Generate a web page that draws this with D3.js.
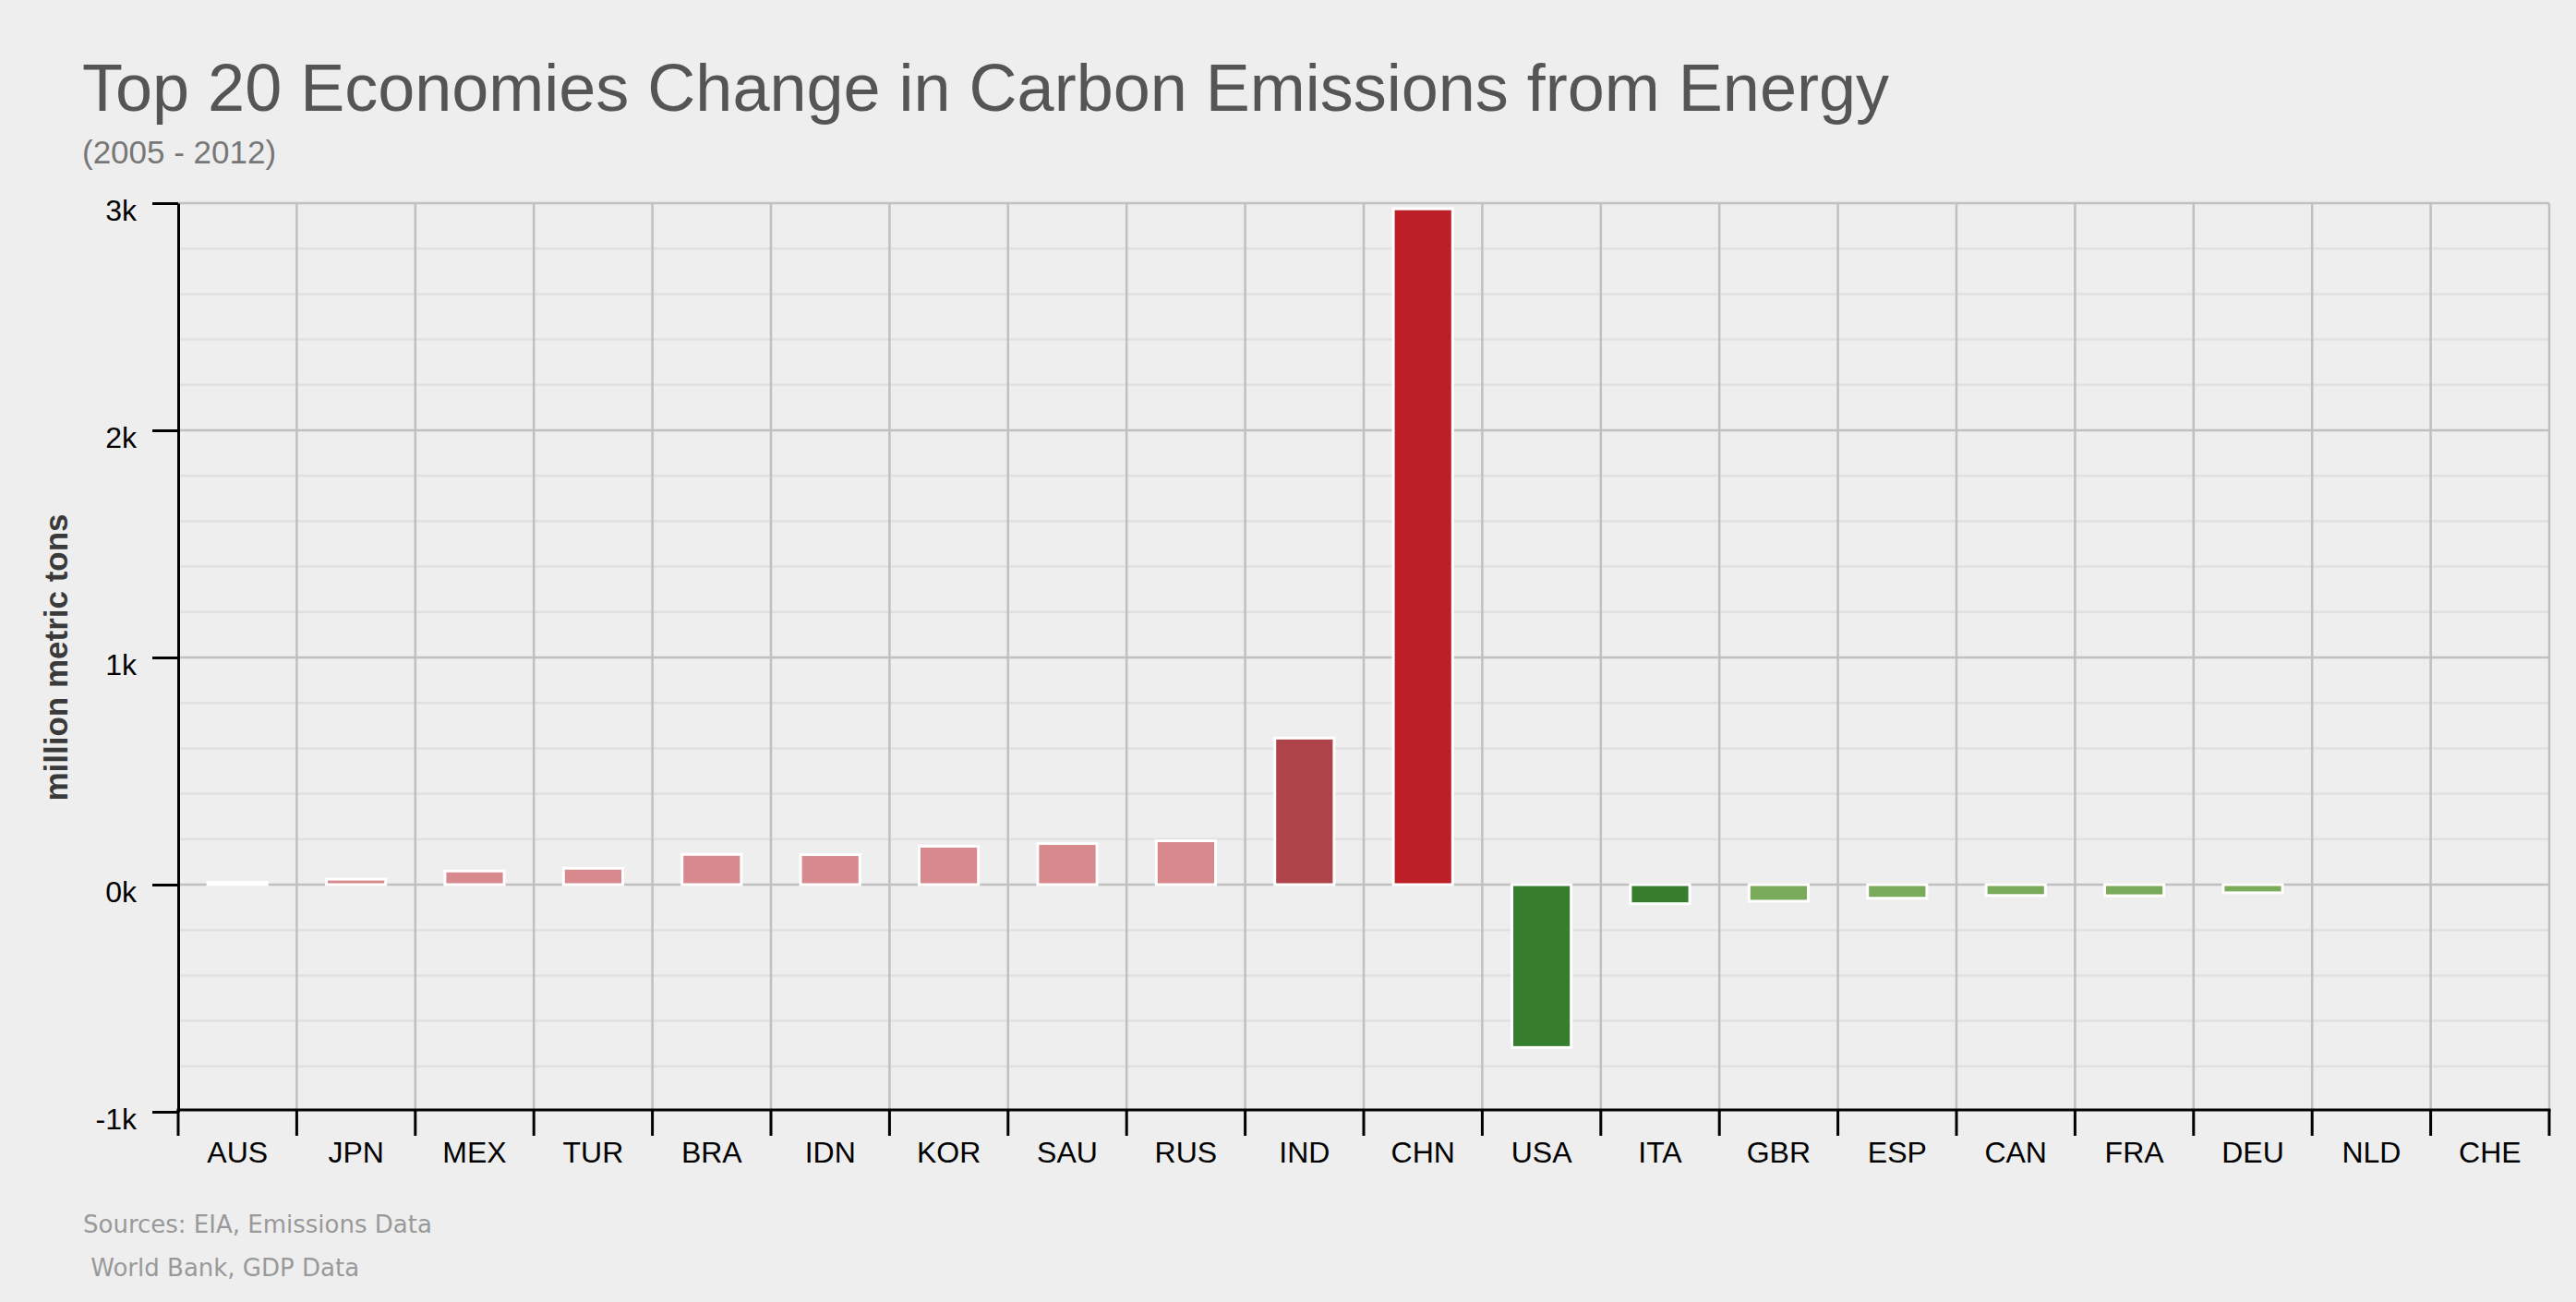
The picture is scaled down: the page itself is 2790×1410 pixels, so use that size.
<!DOCTYPE html>
<html>
<head>
<meta charset="utf-8">
<script src="https://cdn.jsdelivr.net/npm/d3@7"></script>
<style>
  body { margin: 0; background: #eeeeee; }
  svg { display: block; }
</style>
</head>
<body>
<script>
// data (million metric tons, 2005 -> 2012)
var countries = ["AUS","JPN","MEX","TUR","BRA","IDN","KOR","SAU","RUS","IND","CHN","USA","ITA","GBR","ESP","CAN","FRA","DEU","NLD","CHE"];
var change    = [11, 24, 60, 72, 133, 132, 169, 181, 193, 645, 2975, -717, -84, -73, -60, -48, -49, -36, null, null];
var bucket    = ["flat","up","up","up","up","up","up","up","up","up2","up3","down2","down2","down","down","down","down","down","flat","flat"];
var bucketNames  = ["flat","up","up2","up3","down","down2"];
var bucketColors = ["#ffffff","#d8898e","#ae434a","#bd1f26","#79ab5a","#367e2e"];
var yTicks = [-1000, 0, 1000, 2000, 3000];
var yMinor = d3.range(-1000, 3001, 200);

var W = 2790, H = 1410;
var plotLeft = 193, plotRight = 2761, plotTop = 220, plotBottom = 1204;

var rows = countries.map(function(c, i) { return {name: c, value: change[i], group: bucket[i]}; });

var svg = d3.select("body").append("svg")
    .attr("width", W)
    .attr("height", H)
    .style("background", "#eeeeee");

var x = d3.scaleBand()
    .domain(countries)
    .range([plotLeft, plotRight])
    .paddingInner(0.5)
    .paddingOuter(0.25);

var y = d3.scaleLinear()
    .domain([-1000, 3000])
    .range([plotBottom, plotTop]);

var color = d3.scaleOrdinal(bucketNames, bucketColors);

// titles
svg.append("text")
    .attr("x", 89).attr("y", 120)
    .attr("font-family", "'Liberation Sans', Arial, sans-serif")
    .attr("font-size", 72)
    .attr("fill", "#555555")
    .text("Top 20 Economies Change in Carbon Emissions from Energy");

svg.append("text")
    .attr("x", 89).attr("y", 177)
    .attr("font-family", "'Liberation Sans', Arial, sans-serif")
    .attr("font-size", 35)
    .attr("fill", "#777777")
    .text("(2005 - 2012)");

// grid
var grid = svg.append("g");
grid.selectAll("line.minor")
    .data(yMinor.filter(function(v) { return yTicks.indexOf(v) < 0; }))
    .enter().append("line")
    .attr("class", "minor")
    .attr("x1", plotLeft).attr("x2", plotRight)
    .attr("y1", function(d) { return y(d); })
    .attr("y2", function(d) { return y(d); })
    .attr("stroke", "#e0e0e0")
    .attr("stroke-width", 2.5);

var bounds = d3.range(countries.length + 1).map(function(i) { return plotLeft + i * x.step(); });

grid.selectAll("line.vert")
    .data(bounds.slice(1))
    .enter().append("line")
    .attr("class", "vert")
    .attr("x1", function(d) { return d; })
    .attr("x2", function(d) { return d; })
    .attr("y1", plotTop).attr("y2", plotBottom)
    .attr("stroke", "#c0c0c0")
    .attr("stroke-width", 2.5);

grid.selectAll("line.major")
    .data(yTicks.filter(function(v) { return v > -1000; }))
    .enter().append("line")
    .attr("class", "major")
    .attr("x1", plotLeft).attr("x2", plotRight)
    .attr("y1", function(d) { return y(d); })
    .attr("y2", function(d) { return y(d); })
    .attr("stroke", "#c0c0c0")
    .attr("stroke-width", 2.5);

// bars
svg.append("g").selectAll("rect")
    .data(rows.filter(function(d) { return d.value != null; }))
    .enter().append("rect")
    .attr("x", function(d) { return x(d.name); })
    .attr("width", x.bandwidth())
    .attr("y", function(d) { return y(Math.max(0, d.value)); })
    .attr("height", function(d) { return Math.abs(y(d.value) - y(0)); })
    .attr("fill", function(d) { return color(d.group); })
    .attr("stroke", "#ffffff")
    .attr("stroke-width", 3);

// y axis
var yAxis = svg.append("g")
    .attr("transform", "translate(" + plotLeft + ",0)")
    .call(d3.axisLeft(y)
        .tickValues(yTicks)
        .tickFormat(function(d) { return (d / 1000) + "k"; })
        .tickSize(28)
        .tickSizeOuter(0)
        .tickPadding(17));
yAxis.select(".domain").attr("stroke", "#000").attr("stroke-width", 3);
yAxis.selectAll(".tick line").attr("stroke", "#000").attr("stroke-width", 3);
yAxis.selectAll(".tick text")
    .attr("font-family", "'Liberation Sans', Arial, sans-serif")
    .attr("font-size", 32)
    .attr("fill", "#000")
    .attr("dy", "0.58em");

// x axis: labels centred on bands, ticks on band edges
var xAxis = svg.append("g")
    .attr("transform", "translate(0," + plotBottom + ")")
    .call(d3.axisBottom(x).tickSize(0).tickSizeOuter(0).tickPadding(28));
xAxis.select(".domain").remove();
xAxis.selectAll(".tick text")
    .attr("font-family", "'Liberation Sans', Arial, sans-serif")
    .attr("font-size", 32)
    .attr("fill", "#000")
    .attr("dy", "0.84em");

xAxis.append("line")
    .attr("x1", plotLeft - 1.5).attr("x2", plotRight + 1.5)
    .attr("y1", -2).attr("y2", -2)
    .attr("stroke", "#000")
    .attr("stroke-width", 3);
xAxis.selectAll("line.edge")
    .data(bounds)
    .enter().append("line")
    .attr("class", "edge")
    .attr("x1", function(d) { return d; })
    .attr("x2", function(d) { return d; })
    .attr("y1", -2).attr("y2", 26)
    .attr("stroke", "#000")
    .attr("stroke-width", 3);

// y axis title
svg.append("text")
    .attr("transform", "translate(73," + ((plotTop + plotBottom) / 2) + ") rotate(-90)")
    .attr("text-anchor", "middle")
    .attr("font-family", "'Liberation Sans', Arial, sans-serif")
    .attr("font-weight", "bold")
    .attr("font-size", 35)
    .attr("fill", "#3a3a3a")
    .text("million metric tons");

// sources
var src = svg.append("text")
    .attr("x", 90)
    .attr("font-family", "'DejaVu Sans', sans-serif")
    .attr("font-size", 26)
    .attr("fill", "#999999")
    .attr("xml:space", "preserve")
    .style("white-space", "pre");
src.append("tspan").attr("x", 90).attr("y", 1335).text("Sources: EIA, Emissions Data");
src.append("tspan").attr("x", 90).attr("y", 1382).text(" World Bank, GDP Data");
</script>
</body>
</html>
